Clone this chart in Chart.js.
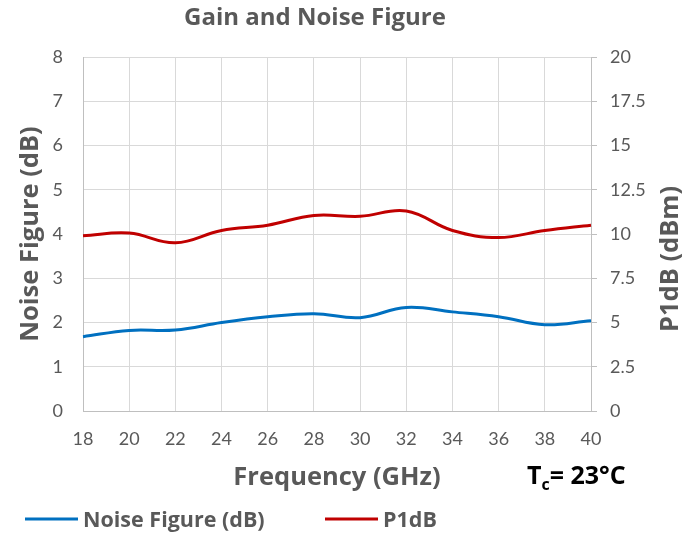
<!DOCTYPE html>
<html>
<head>
<meta charset="utf-8">
<script src="https://cdn.jsdelivr.net/npm/chart.js@4"></script>
<style>
  html, body { margin: 0; padding: 0; background: #fff; }
  #wrap { width: 699px; height: 537px; }
</style>
</head>
<body>
<div id="wrap"><canvas id="chart" width="699" height="537"></canvas></div>
<script>
// data
const freqs = [18, 20, 22, 24, 26, 28, 30, 32, 34, 36, 38, 40];
const noiseFigure = [1.68, 1.82, 1.83, 2.0, 2.13, 2.2, 2.11, 2.34, 2.24, 2.13, 1.95, 2.04];
const p1dB = [9.9, 10.05, 9.5, 10.2, 10.5, 11.05, 11.0, 11.3, 10.2, 9.8, 10.2, 10.5];
const nfTicks = [0, 1, 2, 3, 4, 5, 6, 7, 8];
const p1Ticks = [0, 2.5, 5, 7.5, 10, 12.5, 15, 17.5, 20];

const FONT = 'Lato';
const BOLD = '"Open Sans"';
const GREY = '#595959';

// title, right axis title, Tc note and legend are drawn by hand to sit where the original has them
const extras = {
  id: 'extras',
  afterDraw(chart) {
    const ctx = chart.ctx;
    ctx.save();
    ctx.fillStyle = GREY;
    ctx.textBaseline = 'alphabetic';
    ctx.textAlign = 'center';
    ctx.font = `bold 24px ${BOLD}`;
    ctx.fillText('Gain and Noise Figure', 315, 25);

    // right axis title reads bottom to top, like the left one
    ctx.save();
    ctx.translate(671, 259);
    ctx.rotate(-Math.PI / 2);
    ctx.textBaseline = 'middle';
    ctx.font = `bold 25.5px ${BOLD}`;
    ctx.fillText('P1dB (dBm)', 0, 0);
    ctx.restore();

    // T_c = 23°C
    ctx.fillStyle = '#000';
    ctx.textAlign = 'left';
    ctx.font = `bold 25px ${BOLD}`;
    ctx.fillText('T', 527, 484);
    let x = 527 + ctx.measureText('T').width;
    ctx.font = `bold 16px ${BOLD}`;
    ctx.fillText('c', x, 490);
    x += ctx.measureText('c').width;
    ctx.font = `bold 25px ${BOLD}`;
    ctx.fillText('= 23°C', x, 484);

    // legend
    const items = [[25, 83], [325, 383]];
    chart.data.datasets.forEach((ds, i) => {
      const [lx, tx] = items[i];
      ctx.strokeStyle = ds.borderColor;
      ctx.lineWidth = 3;
      ctx.beginPath();
      ctx.moveTo(lx, 519);
      ctx.lineTo(lx + 53, 519);
      ctx.stroke();
      ctx.fillStyle = GREY;
      ctx.font = `bold 21.5px ${BOLD}`;
      ctx.fillText(ds.label, tx, 527);
    });
    ctx.restore();
  }
};

new Chart(document.getElementById('chart'), {
  type: 'line',
  data: {
    labels: freqs,
    datasets: [
      {
        label: 'Noise Figure (dB)',
        data: noiseFigure,
        borderColor: '#0070C0',
        backgroundColor: '#0070C0',
        borderWidth: 3,
        pointRadius: 0,
        tension: 0.4,
        yAxisID: 'y'
      },
      {
        label: 'P1dB',
        data: p1dB,
        borderColor: '#C00000',
        backgroundColor: '#C00000',
        borderWidth: 3,
        pointRadius: 0,
        tension: 0.4,
        yAxisID: 'y1'
      }
    ]
  },
  options: {
    responsive: false,
    animation: false,
    layout: { padding: { top: 57, left: 0, right: 0, bottom: 0 } },
    plugins: {
      legend: { display: false },
      title: { display: false },
      tooltip: { enabled: false }
    },
    scales: {
      x: {
        type: 'category',
        offset: false,
        grid: { color: '#d9d9d9', drawTicks: false },
        border: { color: '#bfbfbf' },
        ticks: { color: GREY, font: { family: FONT, size: 18 }, padding: 17, maxRotation: 0 },
        title: {
          display: true, text: 'Frequency (GHz)', color: GREY,
          font: { family: BOLD, size: 25.5, weight: 'bold' },
          padding: { top: 0, bottom: 44 }
        },
        afterFit: s => { s.height = 126; }
      },
      y: {
        position: 'left',
        min: 0, max: 8,
        afterBuildTicks: s => { s.ticks = nfTicks.map(v => ({ value: v })); },
        grid: { color: '#d9d9d9', drawTicks: false },
        border: { color: '#bfbfbf' },
        ticks: { color: GREY, font: { family: FONT, size: 18 }, padding: 20 },
        title: {
          display: true, text: 'Noise Figure (dB)', color: GREY,
          font: { family: BOLD, size: 25.5, weight: 'bold' },
          padding: { top: 15, bottom: 0 }
        },
        afterFit: s => { s.width = 83; }
      },
      y1: {
        position: 'right',
        min: 0, max: 20,
        afterBuildTicks: s => { s.ticks = p1Ticks.map(v => ({ value: v })); },
        grid: { drawOnChartArea: false, color: '#bfbfbf', tickLength: 6 },
        border: { color: '#bfbfbf' },
        ticks: { color: GREY, font: { family: FONT, size: 18 }, padding: 13 },
        title: { display: false },
        afterFit: s => { s.width = 108; }
      }
    }
  },
  plugins: [extras]
});
</script>
</body>
</html>
